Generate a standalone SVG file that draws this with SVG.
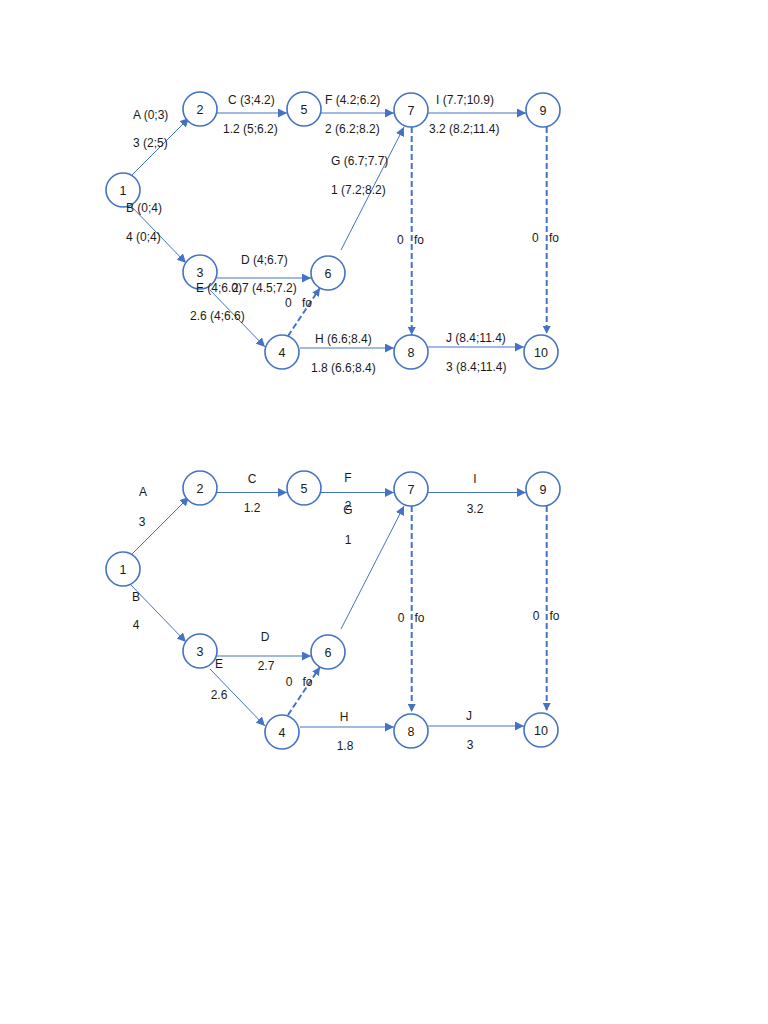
<svg xmlns="http://www.w3.org/2000/svg" width="768" height="1024" viewBox="0 0 768 1024">
<style>
.node circle{fill:#fff;stroke:#4472C4;stroke-width:1.6}
.node text{font-family:"Liberation Sans",Arial,sans-serif;font-size:12.5px;fill:#1a1a1a;text-anchor:middle}
.edge{stroke:#4472C4;stroke-width:1;fill:none;marker-end:url(#ah)}
.dash{stroke:#4472C4;stroke-width:2;fill:none;stroke-dasharray:6 3;marker-end:url(#ahd)}
.lbl{font-family:"Liberation Sans",Arial,sans-serif;font-size:12px;fill:#1a1a1a}
</style>
<defs>
<marker id="ah" viewBox="0 0 10 10" refX="10" refY="5" markerWidth="9" markerHeight="9" markerUnits="userSpaceOnUse" orient="auto"><path d="M0,0L10,5L0,10z" fill="#4472C4"/></marker>
<marker id="ahd" viewBox="0 0 10 10" refX="10" refY="5" markerWidth="8" markerHeight="8" markerUnits="userSpaceOnUse" orient="auto"><path d="M0,0L10,5L0,10z" fill="#4472C4"/></marker>
</defs>
<rect width="768" height="1024" fill="#fff"/>

<!-- TOP DIAGRAM -->
<g id="connectors-top">
<line class="edge" x1="132" y1="175" x2="189" y2="118"/>
<line class="edge" x1="217" y1="113" x2="287" y2="113"/>
<line class="edge" x1="321" y1="113" x2="394" y2="113"/>
<line class="edge" x1="428" y1="113" x2="526" y2="113"/>
<line class="edge" x1="130" y1="205" x2="186" y2="263"/>
<line class="edge" x1="217" y1="278" x2="311" y2="278"/>
<line class="edge" x1="210" y1="290" x2="265" y2="347"/>
<line class="edge" x1="341" y1="250" x2="404" y2="127"/>
<line class="dash" x1="288" y1="336" x2="320" y2="288"/>
<line class="edge" x1="300" y1="348" x2="394" y2="348"/>
<line class="edge" x1="428" y1="347" x2="524" y2="347"/>
<line class="dash" x1="411.7" y1="127" x2="411.7" y2="335"/>
<line class="dash" x1="546.7" y1="127" x2="546.7" y2="334"/>
</g>
<g id="node-t1" class="node"><circle cx="123" cy="190" r="17"/><text x="123" y="194.5">1</text></g>
<g id="node-t2" class="node"><circle cx="200" cy="109" r="17"/><text x="200" y="113.5">2</text></g>
<g id="node-t5" class="node"><circle cx="304" cy="109" r="17"/><text x="304" y="113.5">5</text></g>
<g id="node-t7" class="node"><circle cx="411" cy="110" r="17"/><text x="411" y="114.5">7</text></g>
<g id="node-t9" class="node"><circle cx="543" cy="110" r="17"/><text x="543" y="114.5">9</text></g>
<g id="node-t3" class="node"><circle cx="200" cy="272" r="17"/><text x="200" y="276.5">3</text></g>
<g id="node-t6" class="node"><circle cx="328" cy="273" r="17"/><text x="328" y="277.5">6</text></g>
<g id="node-t4" class="node"><circle cx="282" cy="352" r="17"/><text x="282" y="356.5">4</text></g>
<g id="node-t8" class="node"><circle cx="411" cy="352" r="17"/><text x="411" y="356.5">8</text></g>
<g id="node-t10" class="node"><circle cx="541" cy="352" r="17"/><text x="541" y="356.5">10</text></g>
<g id="labels-top" class="lbl">
<text x="133" y="119">A (0;3)</text>
<text x="133" y="147">3 (2;5)</text>
<text x="126" y="212">B (0;4)</text>
<text x="126" y="241">4 (0;4)</text>
<text x="228" y="104">C (3;4.2)</text>
<text x="223" y="133">1.2 (5;6.2)</text>
<text x="325" y="104">F (4.2;6.2)</text>
<text x="325" y="133">2 (6.2;8.2)</text>
<text x="436" y="104">I (7.7;10.9)</text>
<text x="429" y="133">3.2 (8.2;11.4)</text>
<text x="331" y="165">G (6.7;7.7)</text>
<text x="331" y="194">1 (7.2;8.2)</text>
<text x="397" y="244">0</text><text x="414" y="244">fo</text>
<text x="532" y="242">0</text><text x="549" y="242">fo</text>
<text x="241" y="264">D (4;6.7)</text>
<text x="196" y="292">E (4;6.0)</text>
<text x="232" y="292">2.7 (4.5;7.2)</text>
<text x="285" y="307">0</text><text x="302" y="307">fo</text>
<text x="190" y="320">2.6 (4;6.6)</text>
<text x="315" y="343">H (6.6;8.4)</text>
<text x="311" y="372">1.8 (6.6;8.4)</text>
<text x="446" y="342">J (8.4;11.4)</text>
<text x="446" y="371">3 (8.4;11.4)</text>
</g>

<!-- BOTTOM DIAGRAM -->
<g id="connectors-bottom">
<line class="edge" x1="132" y1="554" x2="189" y2="497"/>
<line class="edge" x1="217" y1="492.5" x2="287" y2="492.5"/>
<line class="edge" x1="321" y1="492.5" x2="394" y2="492.5"/>
<line class="edge" x1="428" y1="492.5" x2="526" y2="492.5"/>
<line class="edge" x1="130" y1="584" x2="186" y2="642"/>
<line class="edge" x1="217" y1="656" x2="311" y2="656"/>
<line class="edge" x1="210" y1="669" x2="265" y2="726"/>
<line class="edge" x1="341" y1="629" x2="404" y2="506"/>
<line class="dash" x1="288" y1="715" x2="320" y2="667"/>
<line class="edge" x1="300" y1="727" x2="394" y2="727"/>
<line class="edge" x1="428" y1="726" x2="524" y2="726"/>
<line class="dash" x1="411.7" y1="506" x2="411.7" y2="712"/>
<line class="dash" x1="546.7" y1="506" x2="546.7" y2="711"/>
</g>
<g id="node-b1" class="node"><circle cx="123" cy="569" r="17"/><text x="123" y="573.5">1</text></g>
<g id="node-b2" class="node"><circle cx="200" cy="488" r="17"/><text x="200" y="492.5">2</text></g>
<g id="node-b5" class="node"><circle cx="304" cy="488" r="17"/><text x="304" y="492.5">5</text></g>
<g id="node-b7" class="node"><circle cx="411" cy="489" r="17"/><text x="411" y="493.5">7</text></g>
<g id="node-b9" class="node"><circle cx="543" cy="489" r="17"/><text x="543" y="493.5">9</text></g>
<g id="node-b3" class="node"><circle cx="200" cy="651" r="17"/><text x="200" y="655.5">3</text></g>
<g id="node-b6" class="node"><circle cx="328" cy="652" r="17"/><text x="328" y="656.5">6</text></g>
<g id="node-b4" class="node"><circle cx="282" cy="732" r="17"/><text x="282" y="736.5">4</text></g>
<g id="node-b8" class="node"><circle cx="411" cy="731" r="17"/><text x="411" y="735.5">8</text></g>
<g id="node-b10" class="node"><circle cx="541" cy="730" r="17"/><text x="541" y="734.5">10</text></g>
<g id="labels-bottom" class="lbl" text-anchor="middle">
<text x="143" y="496">A</text>
<text x="142" y="526">3</text>
<text x="136" y="601">B</text>
<text x="136" y="629">4</text>
<text x="252" y="483">C</text>
<text x="252" y="512">1.2</text>
<text x="348" y="482">F</text>
<text x="348" y="510">2</text>
<text x="348" y="514">G</text>
<text x="348" y="544">1</text>
<text x="475" y="483">I</text>
<text x="475" y="513">3.2</text>
<text x="401" y="622">0</text><text x="419.5" y="622">fo</text>
<text x="536" y="620">0</text><text x="554.5" y="620">fo</text>
<text x="265" y="641">D</text>
<text x="266" y="670">2.7</text>
<text x="219" y="668">E</text>
<text x="219" y="699">2.6</text>
<text x="289" y="686">0</text><text x="307.5" y="686">fo</text>
<text x="344" y="721">H</text>
<text x="345" y="750">1.8</text>
<text x="469" y="720">J</text>
<text x="470" y="749">3</text>
</g>
</svg>
